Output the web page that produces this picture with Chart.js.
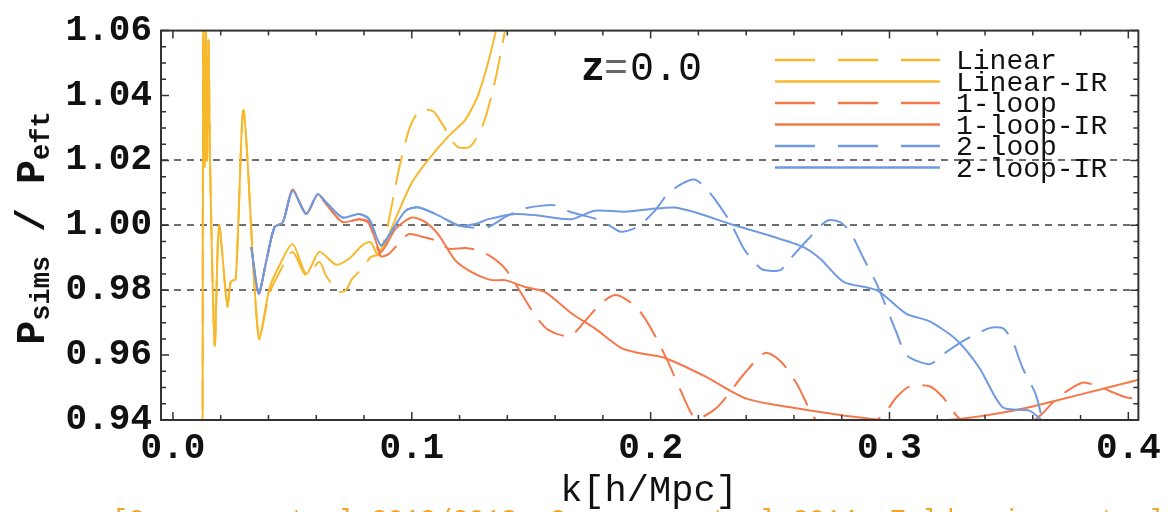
<!DOCTYPE html>
<html>
<head>
<meta charset="utf-8">
<script src="https://cdn.jsdelivr.net/npm/chart.js@4.4.1/dist/chart.umd.min.js"></script>
<style>
  html, body { margin: 0; padding: 0; background: #fff; }
  #wrap { width: 1168px; height: 512px; }
</style>
</head>
<body>
<div id="wrap"><canvas id="pk" width="1168" height="512"></canvas></div>
<script>
"use strict";

// k in h/Mpc, ratio P_sims / P_eft (z = 0.0)
var linK = [0.0124, 0.0127, 0.0133, 0.0138, 0.0143, 0.0149, 0.0156, 0.0175, 0.0193, 0.0228,
            0.0242, 0.0263, 0.0296, 0.0359, 0.0404, 0.0439, 0.0501, 0.0557, 0.0613, 0.0640,
            0.0667, 0.0696, 0.0724, 0.0750, 0.0792, 0.0828, 0.0862, 0.0890, 0.0946, 0.0988,
            0.1022, 0.1057, 0.1092, 0.1126, 0.1189, 0.1245, 0.1300, 0.1349, 0.1390, 0.1420];
var linY = [0.930, 1.065, 1.018, 1.062, 1.020, 1.057, 1.017, 0.963, 1.000, 0.975,
            0.9826, 0.9835, 1.0354, 0.9652, 0.9790, 0.9845, 0.9918, 0.9846, 0.9887, 0.9846,
            0.9817, 0.9795, 0.9800, 0.9835, 0.9866, 0.9902, 0.9912, 0.9968, 1.0172, 1.0294,
            1.0345, 1.0357, 1.0350, 1.0314, 1.0243, 1.0243, 1.0314, 1.0447, 1.0600, 1.075];

var linIrK = [0.0124, 0.0127, 0.0133, 0.0138, 0.0143, 0.0149, 0.0156, 0.0175, 0.0193, 0.0228,
              0.0242, 0.0263, 0.0296, 0.0359, 0.0404, 0.0439, 0.0501, 0.0558, 0.0613, 0.0682,
              0.0737, 0.0792, 0.0827, 0.0862, 0.0931, 0.1000, 0.1070, 0.1154, 0.1224, 0.1280,
              0.1349, 0.1400];
var linIrY = [0.930, 1.065, 1.018, 1.062, 1.020, 1.057, 1.017, 0.963, 1.000, 0.975,
              0.9826, 0.9835, 1.0354, 0.9652, 0.9805, 0.9866, 0.9942, 0.9850, 0.9918, 0.9879,
              0.9897, 0.9938, 0.9948, 0.9907, 1.0019, 1.0131, 1.0203, 1.0275, 1.0325, 1.0406,
              1.0590, 1.080];

var oneK = [0.0328, 0.0359, 0.0390, 0.0425, 0.0460, 0.0501, 0.0558, 0.0606, 0.0642, 0.0710,
            0.0779, 0.0821, 0.0870, 0.0904, 0.0946, 0.0988, 0.1043, 0.1099, 0.1154, 0.1224,
            0.1279, 0.1335, 0.1390, 0.1446, 0.1515, 0.1571, 0.1661, 0.1724, 0.1793, 0.1849,
            0.1890, 0.1946, 0.2001, 0.2071, 0.2126, 0.2189, 0.2279, 0.2390, 0.2480, 0.2543,
            0.2613, 0.2683, 0.2730, 0.2890, 0.2973, 0.3029, 0.3085, 0.3167, 0.3224, 0.3279,
            0.3340, 0.3560, 0.3633, 0.3707, 0.3807, 0.3870, 0.3920, 0.3990, 0.4043];
var oneY = [0.9933, 0.9790, 0.9887, 0.9994, 1.0009, 1.0110, 1.0035, 1.0096, 1.0065, 1.0010,
            1.0019, 1.0005, 0.9905, 0.9912, 0.9945, 0.9973, 0.9965, 0.9953, 0.9928, 0.9930,
            0.9923, 0.9902, 0.9867, 0.9805, 0.9724, 0.9678, 0.9658, 0.9704, 0.9760, 0.9785,
            0.9775, 0.9744, 0.9683, 0.9582, 0.9490, 0.9405, 0.9439, 0.9541, 0.9607, 0.9582,
            0.9510, 0.9409, 0.9380, 0.9380, 0.9415, 0.9470, 0.9504, 0.9504, 0.9470, 0.9415,
            0.9380, 0.9380, 0.9415, 0.9470, 0.9515, 0.9505, 0.9490, 0.9470, 0.9465];

var oneIrK = [0.0328, 0.0359, 0.0390, 0.0425, 0.0460, 0.0501, 0.0558, 0.0606, 0.0642, 0.0710,
              0.0779, 0.0821, 0.0870, 0.0932, 0.1001, 0.1057, 0.1113, 0.1182, 0.1251, 0.1334,
              0.1390, 0.1474, 0.1557, 0.1668, 0.1765, 0.1876, 0.1946, 0.2057, 0.2224, 0.2334,
              0.2404, 0.2501, 0.2668, 0.2807, 0.2918, 0.3000, 0.3168, 0.3279, 0.3446, 0.3585,
              0.3724, 0.3862, 0.4043];
var oneIrY = [0.9933, 0.9790, 0.9887, 0.9994, 1.0009, 1.0110, 1.0035, 1.0096, 1.0065, 1.0010,
              1.0019, 1.0010, 0.9918, 0.9989, 1.0024, 1.0010, 0.9970, 0.9892, 0.9856, 0.9831,
              0.9831, 0.9810, 0.9795, 0.9729, 0.9683, 0.9622, 0.9607, 0.9592, 0.9536, 0.9490,
              0.9465, 0.9449, 0.9429, 0.9414, 0.9404, 0.9397, 0.9397, 0.9402, 0.9419, 0.9439,
              0.9465, 0.9490, 0.9524];

var twoK = [0.0328, 0.0359, 0.0390, 0.0425, 0.0460, 0.0501, 0.0558, 0.0606, 0.0642, 0.0710,
            0.0779, 0.0821, 0.0870, 0.0904, 0.0974, 0.1029, 0.1113, 0.1196, 0.1250, 0.1321,
            0.1390, 0.1474, 0.1599, 0.1668, 0.1779, 0.1835, 0.1876, 0.1946, 0.2015, 0.2071,
            0.2126, 0.2182, 0.2224, 0.2279, 0.2334, 0.2390, 0.2446, 0.2474, 0.2543, 0.2585,
            0.2654, 0.2738, 0.2793, 0.2835, 0.2890, 0.2946, 0.3029, 0.3071, 0.3168, 0.3224,
            0.3307, 0.3418, 0.3474, 0.3515, 0.3557, 0.3612, 0.3640];
var twoY = [0.9933, 0.9790, 0.9887, 0.9994, 1.0009, 1.0106, 1.0035, 1.0096, 1.0070, 1.0024,
            1.0035, 1.0019, 0.9938, 0.9968, 1.0045, 1.0055, 1.0030, 1.0000, 0.9993, 0.9995,
            1.0025, 1.0052, 1.0062, 1.0040, 1.0018, 0.9996, 0.9980, 0.9996, 1.0043, 1.0096,
            1.0126, 1.0141, 1.0121, 1.0070, 1.0009, 0.9928, 0.9877, 0.9862, 0.9862, 0.9897,
            0.9953, 1.0014, 1.0010, 0.9980, 0.9900, 0.9820, 0.9670, 0.9600, 0.9572, 0.9602,
            0.9643, 0.9683, 0.9683, 0.9643, 0.9561, 0.9480, 0.9400];

var twoIrK = [0.0328, 0.0359, 0.0390, 0.0425, 0.0460, 0.0501, 0.0558, 0.0606, 0.0642, 0.0710,
              0.0779, 0.0821, 0.0870, 0.0904, 0.0974, 0.1029, 0.1113, 0.1196, 0.1265, 0.1321,
              0.1432, 0.1529, 0.1668, 0.1765, 0.1890, 0.2001, 0.2099, 0.2196, 0.2334, 0.2500,
              0.2640, 0.2710, 0.2807, 0.2946, 0.3071, 0.3168, 0.3279, 0.3376, 0.3474, 0.3585,
              0.3640];
var twoIrY = [0.9933, 0.9790, 0.9887, 0.9994, 1.0009, 1.0106, 1.0035, 1.0096, 1.0070, 1.0024,
              1.0035, 1.0019, 0.9938, 0.9968, 1.0045, 1.0055, 1.0030, 0.9999, 1.0004, 1.0019,
              1.0035, 1.0030, 1.0019, 1.0045, 1.0042, 1.0050, 1.0055, 1.0038, 1.0004, 0.9968,
              0.9933, 0.9897, 0.9826, 0.9800, 0.9727, 0.9704, 0.9648, 0.9561, 0.9439, 0.9429,
              0.9398];

var guideLines = [0.98, 1.00, 1.02];

var YELLOW = "#f7b82c";
var ORANGE = "#f5784a";
var BLUE = "#6f9ae0";
var DASH = [30, 13];

function pts(ks, ys)
{
  return ks.map(function (k, i) { return { x: k, y: ys[i] }; });
}

function series(label, ks, ys, color, dashed, order)
{
  return {
    label: label,
    data: pts(ks, ys),
    borderColor: color,
    borderWidth: 2,
    borderDash: dashed ? DASH : [],
    pointRadius: 0,
    tension: 0.25,
    fill: false,
    order: order
  };
}

// frame with inward ticks, axis titles, legend and the z label
var decorations = {
  id: "decorations",
  afterDraw: function (chart) {
    var c = chart.ctx, a = chart.chartArea;
    var xs = chart.scales.x, ys = chart.scales.y;
    var i, p, len;
    c.save();

    c.strokeStyle = "#333";
    c.lineWidth = 1.5;
    c.beginPath();
    for (i = 0; i <= 20; i++) {
      p = xs.getPixelForValue(i * 0.02);
      len = (i % 5 === 0) ? 8 : 5;
      c.moveTo(p, a.bottom); c.lineTo(p, a.bottom - len);
      c.moveTo(p, a.top); c.lineTo(p, a.top + len);
    }
    for (i = 0; i <= 24; i++) {
      p = ys.getPixelForValue(0.94 + i * 0.005);
      len = (i % 4 === 0) ? 8 : 5;
      c.moveTo(a.left, p); c.lineTo(a.left + len, p);
      c.moveTo(a.right, p); c.lineTo(a.right - len, p);
    }
    c.stroke();
    c.lineWidth = 2;
    c.strokeRect(a.left, a.top, a.right - a.left, a.bottom - a.top);

    // legend
    var rowY = 60, rowGap = 21.5;
    chart.data.datasets.forEach(function (ds, n) {
      var y = rowY + n * rowGap;
      c.strokeStyle = ds.borderColor;
      c.lineWidth = 2.5;
      c.setLineDash(ds.borderDash.length ? [40, 23] : []);
      c.beginPath();
      c.moveTo(775, y); c.lineTo(940, y);
      c.stroke();
      c.setLineDash([]);
      c.fillStyle = "#111";
      c.font = "28px 'Liberation Mono'";
      c.textBaseline = "alphabetic";
      c.textAlign = "left";
      c.fillText(ds.label, 956, y + 9);
    });

    // z = 0.0
    c.fillStyle = "#111";
    c.font = "bold 40px 'Liberation Mono'";
    c.fillText("z", 581, 80);
    c.fillStyle = "#666";
    c.font = "40px 'Liberation Mono'";
    c.fillText("=", 604, 80);
    c.fillStyle = "#111";
    c.fillText("0.0", 630, 80);

    // x title
    c.font = "37px 'Liberation Mono'";
    c.textAlign = "center";
    c.fillText("k[h/Mpc]", 649, 501);

    // reference line under the figure, cut by the page edge
    c.fillStyle = "#f4a42a";
    c.font = "27px 'Liberation Mono'";
    c.textAlign = "left";
    c.fillText("[Carrasco et al 2012/2013, Carrasco et al 2014, Zaldarriaga et al 2016]", 112, 528);

    // y title, rotated, with subscripts
    var parts = [
      ["P", "bold 40px 'Liberation Mono'", 0],
      ["sims", "bold 27px 'Liberation Mono'", 5],
      [" / ", "bold 40px 'Liberation Mono'", 0],
      ["P", "bold 40px 'Liberation Mono'", 0],
      ["eft", "bold 27px 'Liberation Mono'", 5]
    ];
    var total = 0;
    parts.forEach(function (q) { c.font = q[1]; total += c.measureText(q[0]).width; });
    c.translate(44, 228);
    c.rotate(-Math.PI / 2);
    var tx = -total / 2;
    c.textAlign = "left";
    c.fillStyle = "#111";
    parts.forEach(function (q) {
      c.font = q[1];
      c.fillText(q[0], tx, q[2]);
      tx += c.measureText(q[0]).width;
    });
    c.restore();
  }
};

function isGuide(v)
{
  return guideLines.some(function (g) { return Math.abs(g - v) < 1e-6; });
}

var chart = new Chart(document.getElementById("pk").getContext("2d"), {
  type: "line",
  data: {
    datasets: [
      series("Linear", linK, linY, YELLOW, true, 2),
      series("Linear-IR", linIrK, linIrY, YELLOW, false, 2),
      series("1-loop", oneK, oneY, ORANGE, true, 1),
      series("1-loop-IR", oneIrK, oneIrY, ORANGE, false, 1),
      series("2-loop", twoK, twoY, BLUE, true, 0),
      series("2-loop-IR", twoIrK, twoIrY, BLUE, false, 0)
    ]
  },
  options: {
    responsive: false,
    animation: false,
    devicePixelRatio: 1,
    layout: { padding: { top: 25, right: 25, left: 0, bottom: 0 } },
    plugins: { legend: { display: false }, tooltip: { enabled: false } },
    scales: {
      x: {
        type: "linear",
        min: -0.005,
        max: 0.4042,
        afterFit: function (s) { s.height = 92; },
        grid: { display: false, drawTicks: false },
        border: { display: false },
        ticks: {
          stepSize: 0.1,
          includeBounds: false,
          padding: 7,
          color: "#111",
          maxRotation: 0,
          font: { family: "'Liberation Mono'", size: 36, weight: "bold" },
          callback: function (v) { return v.toFixed(1); }
        }
      },
      y: {
        min: 0.94,
        max: 1.06,
        afterFit: function (s) { s.width = 161; },
        grid: {
          drawTicks: false,
          lineWidth: 2,
          color: function (ctx) {
            return (ctx.tick && isGuide(ctx.tick.value)) ? "#6e6e6e" : "rgba(0,0,0,0)";
          }
        },
        border: { display: false, dash: [7, 6] },
        ticks: {
          stepSize: 0.02,
          padding: 9,
          color: "#111",
          font: { family: "'Liberation Mono'", size: 36, weight: "bold" },
          callback: function (v) { return v.toFixed(2); }
        }
      }
    }
  },
  plugins: [decorations]
});
</script>
</body>
</html>
